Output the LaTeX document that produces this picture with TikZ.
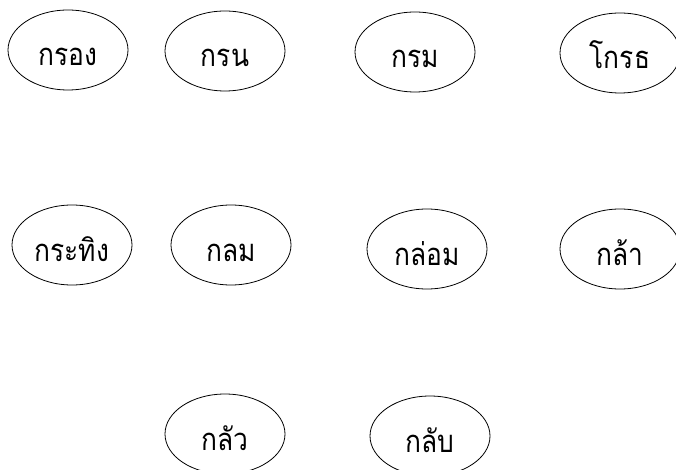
\documentclass[tikz,border=0pt]{standalone}
\usepackage{fontspec}
\newfontfamily\thaifont[Script=Thai,FakeStretch=0.85]{Loma}
\usetikzlibrary{shapes.geometric}
\begin{document}
\begin{tikzpicture}[x=1pt,y=-1pt,
  word/.style={ellipse,draw,line width=0.8pt,minimum width=120pt,minimum height=80pt,inner sep=0pt,text height=32pt,text depth=0pt,font=\thaifont\fontsize{31}{34}\selectfont}]
\useasboundingbox (0,0) rectangle (676,470);
\node[word] (a1) at (68,50) {กรอง};
\node[word] (a2) at (225,51) {กรน};
\node[word] (a3) at (415,52) {กรม};
\node[word] (a4) at (620,53) {โกรธ};
\node[word] (b1) at (72,245) {กระทิง};
\node[word] (b2) at (231,245) {กลม};
\node[word] (b3) at (427,249) {กล่อม};
\node[word] (b4) at (620,249) {กล้า};
\node[word] (c1) at (225,434) {กลัว};
\node[word] (c2) at (430,436) {กลับ};
\end{tikzpicture}
\end{document}
